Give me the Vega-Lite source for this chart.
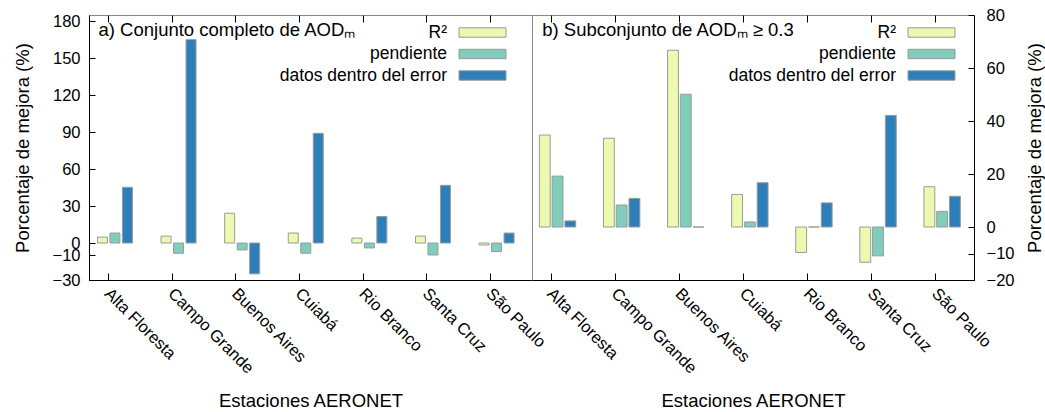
{
  "$schema": "https://vega.github.io/schema/vega-lite/v6.json",
  "autosize": {"type": "none"},
  "padding": {"left": 89, "top": 15, "right": 956, "bottom": 397},
  "background": "white",
  "config": {
    "font": "Liberation Sans",
    "view": {"stroke": "#888", "strokeWidth": 1},
    "axis": {
      "grid": false,
      "labelFont": "Liberation Sans",
      "titleFont": "Liberation Sans",
      "labelFontSize": 16.5,
      "titleFontSize": 18.5,
      "titleFontWeight": "normal",
      "labelColor": "black",
      "titleColor": "black",
      "domainColor": "black",
      "tickColor": "black",
      "labelOverlap": false
    },
    "legend": {
      "orient": "none",
      "title": null,
      "symbolType": "M-2,-0.4H2V0.4H-2Z",
      "symbolSize": 552,
      "symbolStrokeColor": "#999",
      "symbolStrokeWidth": 1,
      "symbolOpacity": 1,
      "labelOffset": -48,
      "labelAlign": "right",
      "labelFont": "Liberation Sans",
      "labelFontSize": 17.5,
      "labelColor": "black",
      "labelLimit": 400,
      "rowPadding": 0.5,
      "padding": 0
    }
  },
  "datasets": {
    "completo": [
      {"estacion": "Alta Floresta", "serie": "R²", "valor": 4.8},
      {"estacion": "Alta Floresta", "serie": "pendiente", "valor": 8.1},
      {"estacion": "Alta Floresta", "serie": "datos dentro del error", "valor": 45.2},
      {"estacion": "Campo Grande", "serie": "R²", "valor": 5.6},
      {"estacion": "Campo Grande", "serie": "pendiente", "valor": -8.3},
      {"estacion": "Campo Grande", "serie": "datos dentro del error", "valor": 165},
      {"estacion": "Buenos Aires", "serie": "R²", "valor": 24.2},
      {"estacion": "Buenos Aires", "serie": "pendiente", "valor": -5.6},
      {"estacion": "Buenos Aires", "serie": "datos dentro del error", "valor": -25},
      {"estacion": "Cuiabá", "serie": "R²", "valor": 8.1},
      {"estacion": "Cuiabá", "serie": "pendiente", "valor": -8.3},
      {"estacion": "Cuiabá", "serie": "datos dentro del error", "valor": 89},
      {"estacion": "Rio Branco", "serie": "R²", "valor": 4.0},
      {"estacion": "Rio Branco", "serie": "pendiente", "valor": -4.0},
      {"estacion": "Rio Branco", "serie": "datos dentro del error", "valor": 21.5},
      {"estacion": "Santa Cruz", "serie": "R²", "valor": 5.6},
      {"estacion": "Santa Cruz", "serie": "pendiente", "valor": -9.7},
      {"estacion": "Santa Cruz", "serie": "datos dentro del error", "valor": 46.8},
      {"estacion": "São Paulo", "serie": "R²", "valor": -1.6},
      {"estacion": "São Paulo", "serie": "pendiente", "valor": -7.0},
      {"estacion": "São Paulo", "serie": "datos dentro del error", "valor": 8.1}
    ],
    "subconjunto": [
      {"estacion": "Alta Floresta", "serie": "R²", "valor": 34.7},
      {"estacion": "Alta Floresta", "serie": "pendiente", "valor": 19.2},
      {"estacion": "Alta Floresta", "serie": "datos dentro del error", "valor": 2.3},
      {"estacion": "Campo Grande", "serie": "R²", "valor": 33.5},
      {"estacion": "Campo Grande", "serie": "pendiente", "valor": 8.3},
      {"estacion": "Campo Grande", "serie": "datos dentro del error", "valor": 10.8},
      {"estacion": "Buenos Aires", "serie": "R²", "valor": 66.7},
      {"estacion": "Buenos Aires", "serie": "pendiente", "valor": 50.1},
      {"estacion": "Buenos Aires", "serie": "datos dentro del error", "valor": 0},
      {"estacion": "Cuiabá", "serie": "R²", "valor": 12.3},
      {"estacion": "Cuiabá", "serie": "pendiente", "valor": 1.9},
      {"estacion": "Cuiabá", "serie": "datos dentro del error", "valor": 16.7},
      {"estacion": "Rio Branco", "serie": "R²", "valor": -9.6},
      {"estacion": "Rio Branco", "serie": "pendiente", "valor": 0},
      {"estacion": "Rio Branco", "serie": "datos dentro del error", "valor": 9.1},
      {"estacion": "Santa Cruz", "serie": "R²", "valor": -13.3},
      {"estacion": "Santa Cruz", "serie": "pendiente", "valor": -10.9},
      {"estacion": "Santa Cruz", "serie": "datos dentro del error", "valor": 42.1},
      {"estacion": "São Paulo", "serie": "R²", "valor": 15.2},
      {"estacion": "São Paulo", "serie": "pendiente", "valor": 5.9},
      {"estacion": "São Paulo", "serie": "datos dentro del error", "valor": 11.6}
    ]
  },
  "spacing": 0,
  "bounds": "flush",
  "resolve": {
    "scale": {"x": "independent", "y": "independent", "xOffset": "independent", "color": "independent"},
    "legend": {"color": "independent"}
  },
  "hconcat": [
    {
      "width": 443,
      "height": 265,
      "data": {"name": "completo"},
      "encoding": {
        "y": {
          "field": "valor", "type": "quantitative",
          "scale": {"domain": [-30, 185], "nice": false, "zero": false},
          "axis": {
            "orient": "left", "values": [-30, -10, 0, 30, 60, 90, 120, 150, 180],
            "tickSize": -6, "labelPadding": 15,
            "title": "Porcentaje de mejora (%)", "titleAngle": 270, "titleX": -60.5, "titleY": 132.5,
            "titleAlign": "center", "titleBaseline": "alphabetic"
          }
        }
      },
      "layer": [
        {
          "data": {"values": [{}]},
          "mark": {"type": "rule", "color": "#888", "strokeDash": [1, 7], "strokeWidth": 1},
          "encoding": {"y": {"datum": 0}}
        },
        {
          "data": {"values": [{}]},
          "mark": {"type": "rule", "color": "#e03a3a", "strokeDash": [3, 2], "strokeWidth": 1},
          "encoding": {"y": {"datum": -10}}
        },
        {
          "mark": {"type": "bar", "stroke": "#9a9a9a", "strokeWidth": 1},
          "encoding": {
            "x": {
              "field": "estacion", "type": "nominal",
              "sort": ["Alta Floresta", "Campo Grande", "Buenos Aires", "Cuiabá", "Rio Branco", "Santa Cruz", "São Paulo"],
              "scale": {"paddingInner": 0.45, "paddingOuter": 0.2075, "align": 0.32},
              "axis": {
                "orient": "bottom", "bandPosition": 0.32, "tickSize": -7, "labelPadding": 12, "labelOffset": -2,
                "labelAngle": 45, "labelAlign": "left", "labelBaseline": "top",
                "title": "Estaciones AERONET", "titleY": 126.5, "titleBaseline": "alphabetic"
              }
            },
            "xOffset": {"field": "serie", "type": "nominal", "sort": ["R²", "pendiente", "datos dentro del error"], "scale": {"paddingInner": 0.2, "paddingOuter": 0}},
            "color": {
              "field": "serie", "type": "nominal",
              "scale": {"domain": ["R²", "pendiente", "datos dentro del error"], "range": ["#edf8b1", "#7fcdbb", "#2c7fb8"]},
              "legend": {"legendX": 381, "legendY": 5}
            }
          }
        },
        {
          "mark": {"type": "bar", "opacity": 0},
          "encoding": {
            "x": {
              "field": "estacion", "type": "nominal",
              "sort": ["Alta Floresta", "Campo Grande", "Buenos Aires", "Cuiabá", "Rio Branco", "Santa Cruz", "São Paulo"],
              "axis": {
                "orient": "top", "bandPosition": 0.32, "tickSize": -7, "labels": false, "domain": false,
                "title": "a) Conjunto completo de AODₘ", "titleX": 9, "titleY": 20.5,
                "titleAlign": "left", "titleBaseline": "alphabetic", "titleAngle": 0
              }
            }
          }
        }
      ],
      "resolve": {"axis": {"x": "independent"}}
    },
    {
      "width": 442,
      "height": 265,
      "data": {"name": "subconjunto"},
      "encoding": {
        "y": {
          "field": "valor", "type": "quantitative",
          "scale": {"domain": [-20, 80], "nice": false, "zero": false},
          "axis": {
            "orient": "right", "values": [-20, -10, 0, 20, 40, 60, 80],
            "tickSize": -6, "labelPadding": 18, "labelAlign": "left",
            "title": "Porcentaje de mejora (%)", "titleAngle": 270, "titleX": 66, "titleY": 132.5,
            "titleAlign": "center", "titleBaseline": "alphabetic"
          }
        }
      },
      "layer": [
        {
          "data": {"values": [{}]},
          "mark": {"type": "rule", "color": "#888", "strokeDash": [1, 7], "strokeWidth": 1},
          "encoding": {"y": {"datum": 0}}
        },
        {
          "data": {"values": [{}]},
          "mark": {"type": "rule", "color": "#e03a3a", "strokeDash": [3, 2], "strokeWidth": 1},
          "encoding": {"y": {"datum": -10}}
        },
        {
          "mark": {"type": "bar", "stroke": "#9a9a9a", "strokeWidth": 1},
          "encoding": {
            "x": {
              "field": "estacion", "type": "nominal",
              "sort": ["Alta Floresta", "Campo Grande", "Buenos Aires", "Cuiabá", "Rio Branco", "Santa Cruz", "São Paulo"],
              "scale": {"paddingInner": 0.432, "paddingOuter": 0.164, "align": 0.35},
              "axis": {
                "orient": "bottom", "bandPosition": 0.32, "tickSize": -7, "labelPadding": 12, "labelOffset": -2,
                "labelAngle": 45, "labelAlign": "left", "labelBaseline": "top",
                "title": "Estaciones AERONET", "titleY": 126.5, "titleBaseline": "alphabetic"
              }
            },
            "xOffset": {"field": "serie", "type": "nominal", "sort": ["R²", "pendiente", "datos dentro del error"], "scale": {"paddingInner": 0.15, "paddingOuter": 0}},
            "color": {
              "field": "serie", "type": "nominal",
              "scale": {"domain": ["R²", "pendiente", "datos dentro del error"], "range": ["#edf8b1", "#7fcdbb", "#2c7fb8"]},
              "legend": {"legendX": 387, "legendY": 5}
            }
          }
        },
        {
          "mark": {"type": "bar", "opacity": 0},
          "encoding": {
            "x": {
              "field": "estacion", "type": "nominal",
              "sort": ["Alta Floresta", "Campo Grande", "Buenos Aires", "Cuiabá", "Rio Branco", "Santa Cruz", "São Paulo"],
              "axis": {
                "orient": "top", "bandPosition": 0.32, "tickSize": -7, "labels": false, "domain": false,
                "title": "b) Subconjunto de AODₘ ≥ 0.3", "titleX": 9.7, "titleY": 20.5,
                "titleAlign": "left", "titleBaseline": "alphabetic", "titleAngle": 0
              }
            }
          }
        }
      ],
      "resolve": {"axis": {"x": "independent"}}
    }
  ]
}
